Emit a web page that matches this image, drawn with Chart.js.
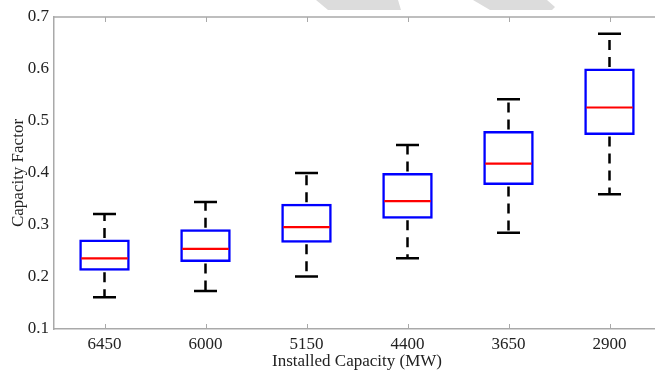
<!DOCTYPE html>
<html>
<head>
<meta charset="utf-8">
<script src="https://cdn.jsdelivr.net/npm/chart.js@4/dist/chart.umd.min.js"></script>
<style>
  html, body { margin: 0; padding: 0; background: #ffffff; overflow: hidden; width: 655px; height: 372px; }
  canvas { display: block; }
</style>
</head>
<body>
<canvas id="c" width="700" height="372"></canvas>
<script>
const categories   = ['6450', '6000', '5150', '4400', '3650', '2900'];
const lowerWhisker = [0.161, 0.173, 0.201, 0.236, 0.285, 0.359];
const q1           = [0.212, 0.229, 0.266, 0.312, 0.377, 0.473];
const median       = [0.236, 0.254, 0.296, 0.346, 0.418, 0.526];
const q3           = [0.272, 0.292, 0.341, 0.400, 0.481, 0.601];
const upperWhisker = [0.321, 0.344, 0.400, 0.454, 0.542, 0.668];
const yTicks       = [0.1, 0.2, 0.3, 0.4, 0.5, 0.6, 0.7];

const FONT = "'Liberation Serif', 'Times New Roman', serif";
const AXIS = '#a9a9a9';

const watermark = {
  id: 'watermark',
  beforeDraw(chart) {
    const ctx = chart.ctx;
    ctx.save();
    ctx.fillStyle = '#dcdcdc';
    ctx.beginPath();
    ctx.moveTo(316, 0); ctx.lineTo(398, 0); ctx.lineTo(401, 10); ctx.lineTo(328, 10); ctx.closePath();
    ctx.fill();
    ctx.beginPath();
    ctx.moveTo(473, 0); ctx.lineTo(547, 0); ctx.lineTo(555, 7); ctx.lineTo(552, 10); ctx.lineTo(490, 10); ctx.closePath();
    ctx.fill();
    ctx.restore();
  }
};

const boxParts = {
  id: 'boxParts',
  afterDatasetsDraw(chart) {
    const ctx = chart.ctx;
    const xs = chart.scales.x, ys = chart.scales.y;
    const area = chart.chartArea;
    const meta = chart.getDatasetMeta(0);
    ctx.save();
    // axes frame extras: top line, right line, inward ticks
    ctx.strokeStyle = AXIS;
    ctx.lineWidth = 1.5;
    ctx.beginPath();
    ctx.moveTo(area.left, area.top); ctx.lineTo(area.right, area.top);
    ctx.moveTo(area.right, area.top); ctx.lineTo(area.right, area.bottom);
    ctx.stroke();
    ctx.lineWidth = 1;
    ctx.beginPath();
    categories.forEach((c, i) => {
      const x = Math.round(xs.getPixelForValue(i)) + 0.5;
      ctx.moveTo(x, area.bottom); ctx.lineTo(x, area.bottom - 5);
      ctx.moveTo(x, area.top); ctx.lineTo(x, area.top + 5);
    });
    yTicks.forEach(v => {
      const y = Math.round(ys.getPixelForValue(v)) + 0.5;
      ctx.moveTo(area.right, y); ctx.lineTo(area.right - 5, y);
    });
    ctx.stroke();

    categories.forEach((c, i) => {
      const bar = meta.data[i];
      const x = xs.getPixelForValue(i);
      const half = bar.width / 2;
      const capHalf = 11.5;
      const yLo = ys.getPixelForValue(lowerWhisker[i]);
      const yQ1 = ys.getPixelForValue(q1[i]);
      const yMed = ys.getPixelForValue(median[i]);
      const yQ3 = ys.getPixelForValue(q3[i]);
      const yHi = ys.getPixelForValue(upperWhisker[i]);
      // whiskers (dashed)
      ctx.strokeStyle = '#000000';
      ctx.lineWidth = 2.5;
      ctx.setLineDash([10, 7]);
      ctx.beginPath();
      ctx.moveTo(x, yQ3 - 1.5); ctx.lineTo(x, yHi);
      ctx.moveTo(x, yQ1 + 1.5); ctx.lineTo(x, yLo);
      ctx.stroke();
      ctx.setLineDash([]);
      // caps
      ctx.beginPath();
      ctx.moveTo(x - capHalf, yHi); ctx.lineTo(x + capHalf, yHi);
      ctx.moveTo(x - capHalf, yLo); ctx.lineTo(x + capHalf, yLo);
      ctx.stroke();
      // median
      ctx.strokeStyle = '#ff0000';
      ctx.lineWidth = 2.2;
      ctx.beginPath();
      ctx.moveTo(x - half + 2, yMed); ctx.lineTo(x + half - 2, yMed);
      ctx.stroke();
    });
    ctx.restore();
  }
};

new Chart(document.getElementById('c'), {
  type: 'bar',
  data: {
    labels: categories,
    datasets: [{
      data: categories.map((c, i) => [q1[i], q3[i]]),
      backgroundColor: 'rgba(0,0,0,0)',
      borderColor: '#0000ff',
      borderWidth: 2.5,
      borderSkipped: false,
      barPercentage: 0.5,
      categoryPercentage: 1.0
    }]
  },
  options: {
    responsive: false,
    animation: false,
    devicePixelRatio: 1,
    layout: { padding: { top: 17, right: 40, left: 0, bottom: 0 } },
    plugins: { legend: { display: false }, tooltip: { enabled: false } },
    scales: {
      x: {
        type: 'category',
        grid: { display: false, drawTicks: false },
        border: { display: true, color: AXIS, width: 1.5 },
        ticks: { color: '#222', font: { family: FONT, size: 17 }, padding: 5, maxRotation: 0 },
        title: { display: true, text: 'Installed Capacity (MW)', color: '#222',
                 font: { family: FONT, size: 17 }, padding: { top: 0, bottom: 0 } },
        afterFit(scale) { scale.height = 43; }
      },
      y: {
        min: 0.1, max: 0.7,
        grid: { display: false, drawTicks: false },
        border: { display: true, color: AXIS, width: 1.5 },
        afterBuildTicks(scale) { scale.ticks = yTicks.map(v => ({ value: v })); },
        ticks: { color: '#222', font: { family: FONT, size: 17 }, padding: 5,
                 callback: v => Number(v).toFixed(1) },
        title: { display: true, text: 'Capacity Factor', color: '#222',
                 font: { family: FONT, size: 17 }, padding: { top: 8, bottom: 0 } },
        afterFit(scale) { scale.width = 54; }
      }
    }
  },
  plugins: [watermark, boxParts]
});
</script>
</body>
</html>
